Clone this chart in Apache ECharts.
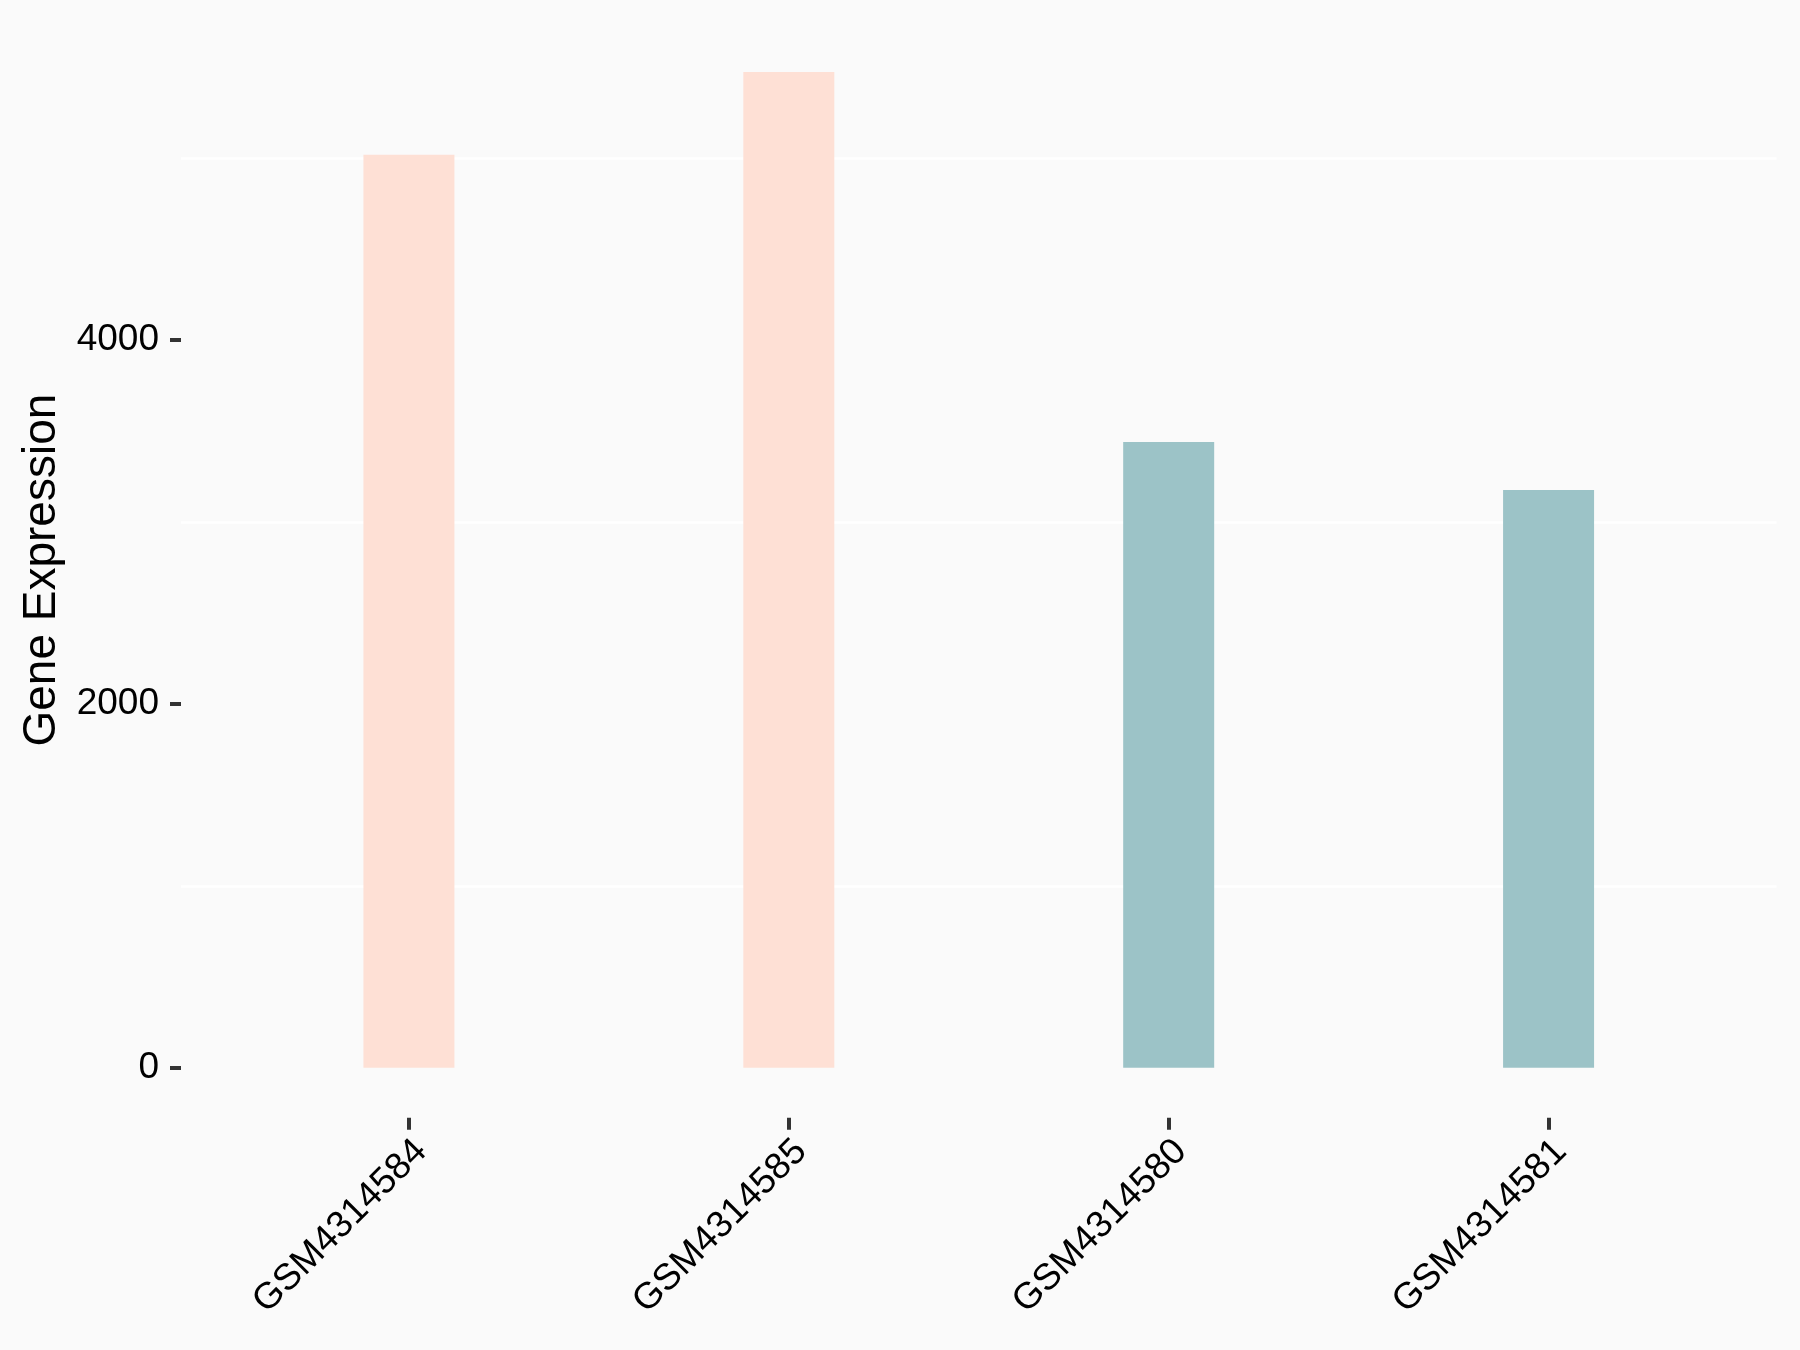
<!DOCTYPE html>
<html>
<head>
<meta charset="utf-8">
<script src="https://cdn.jsdelivr.net/npm/echarts@6/dist/echarts.min.js"></script>
<style>
html,body{margin:0;padding:0;background:#FAFAFA;}
#chart{width:1800px;height:1350px;}
</style>
</head>
<body>
<div id="chart"></div>
<script>
// Data
const categories = ['GSM4314584', 'GSM4314585', 'GSM4314580', 'GSM4314581'];
const values = [5017, 5473, 3439, 3175];
const groups = ['A', 'A', 'B', 'B'];
const groupColors = { A: '#FEE0D5', B: '#9CC3C7' };
const yTickValues = [0, 2000, 4000];

const chart = echarts.init(document.getElementById('chart'), null, { renderer: 'canvas' });
const font = '"Liberation Sans", Arial, sans-serif';
const labelShift = 0.032;
const yMax = 5744.5;

const option = {
  backgroundColor: '#FAFAFA',
  animation: false,
  grid: { left: 181, right: 23.5, top: 22.5, bottom: 282.3, containLabel: false },
  xAxis: {
    type: 'value',
    min: -0.6,
    max: 3.6,
    offset: 50,
    axisLine: { show: false, onZero: false },
    splitLine: { show: false },
    axisTick: {
      show: true,
      customValues: categories.map((c, i) => i),
      length: 12,
      lineStyle: { color: '#333333', width: 4 }
    },
    axisLabel: {
      show: true,
      customValues: categories.map((c, i) => i + labelShift),
      formatter: v => categories[Math.round(v)] || '',
      rotate: 45,
      margin: 28,
      fontSize: 37,
      fontFamily: font,
      color: '#000000'
    }
  },
  yAxis: [
    {
      type: 'value',
      min: 0,
      max: yMax,
      interval: 1000,
      axisLine: { show: false },
      axisTick: { show: false },
      axisLabel: { show: false },
      splitLine: {
        show: true,
        lineStyle: { color: ['#FAFAFA', '#FFFFFF'], width: 2.5 }
      }
    },
    {
      type: 'value',
      position: 'left',
      min: 0,
      max: yMax,
      interval: 2000,
      name: 'Gene Expression',
      nameLocation: 'middle',
      nameGap: 115,
      nameTextStyle: { fontSize: 46, fontFamily: font, color: '#000000', padding: [0, 50, 0, 0] },
      axisLine: { show: false, onZero: false },
      axisTick: { show: true, customValues: yTickValues, length: 11, lineStyle: { color: '#333333', width: 4 } },
      axisLabel: {
        show: true,
        customValues: yTickValues,
        formatter: v => String(Math.round(v)),
        margin: 22,
        fontSize: 37,
        fontFamily: font,
        color: '#000000'
      },
      splitLine: { show: false }
    }
  ],
  series: [
    {
      type: 'bar',
      yAxisIndex: 0,
      barWidth: 91,
      data: values.map((v, i) => ({
        value: [i, v],
        itemStyle: { color: groupColors[groups[i]] }
      }))
    }
  ]
};
chart.setOption(option);
</script>
</body>
</html>
